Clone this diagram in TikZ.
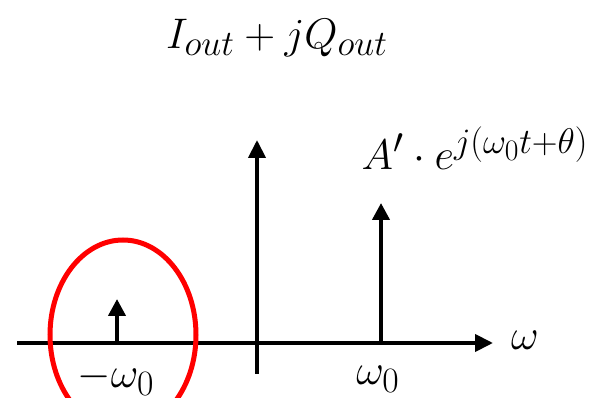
\documentclass[tikz,border=0pt]{standalone}
\usepackage{amsmath}
\usetikzlibrary{arrows.meta}
\tikzset{
  axis/.style={line width=4pt, -{Triangle[length=18pt,width=17pt]}},
  impulse/.style={line width=4pt, -{Triangle[length=17pt,width=17pt]}},
  lbl/.style={inner sep=0pt, font=\Huge, scale=1.72, transform shape}
}
\begin{document}
\begin{tikzpicture}[x=1pt,y=1pt]
    \useasboundingbox (0,0) rectangle (611,398);
    % axes
    \coordinate (wl) at (17,55);
    \coordinate (wr) at (493,55);
    \coordinate (vb) at (257,24);
    \coordinate (vt) at (257,258);
    \draw[axis] (wl) -- (wr);
    \draw[axis] (vb) -- (vt);
    % impulses
    \coordinate (pbase) at (381,55);
    \coordinate (ptip) at (381,195);
    \coordinate (nbase) at (117,55);
    \coordinate (ntip) at (117,99);
    \draw[impulse] (pbase) -- (ptip);
    \draw[impulse] (nbase) -- (ntip);
    \draw[red, line width=5pt] (123,63) ellipse (73 and 95);
    % labels
    \node[lbl] (title) at (277,360) {$I_{out}+jQ_{out}$};
    \node[lbl] (amp) at (475,250) {$A'\cdot e^{j(\omega_0t+\theta)}$};
    \node[lbl] (omega) at (525,58) {$\omega$};
    \node[lbl] (wp) at (378,19) {$\omega_0$};
    \node[lbl] (wn) at (116,19) {$-\omega_0$};
\end{tikzpicture}
\end{document}
